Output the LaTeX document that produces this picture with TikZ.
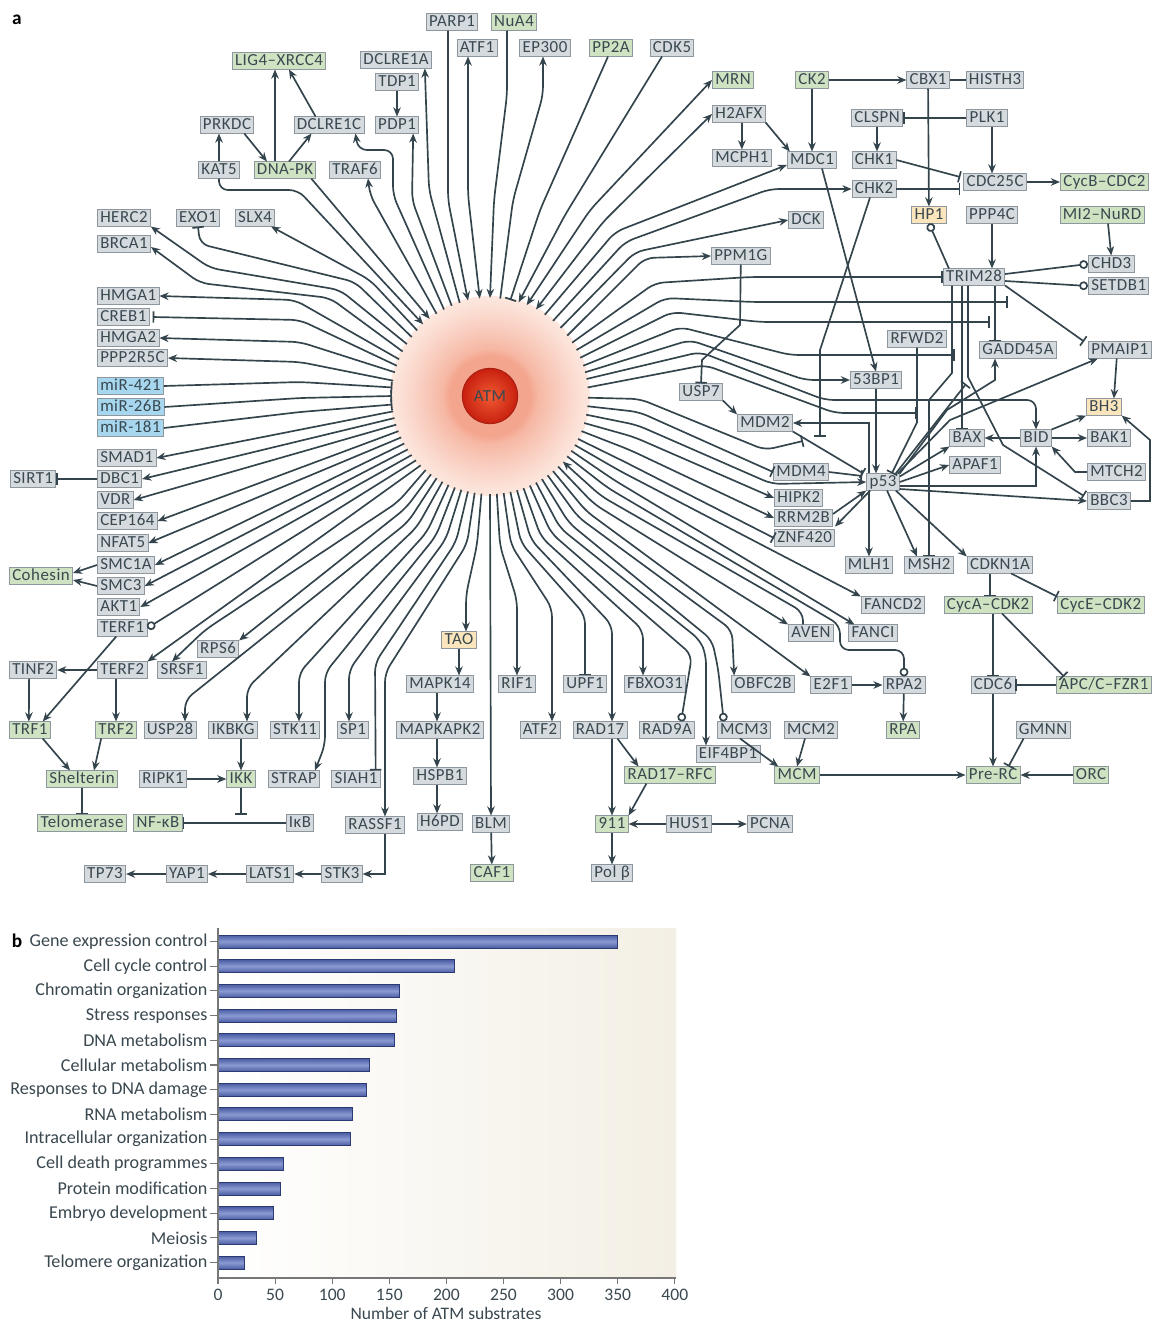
\documentclass[tikz,border=0pt]{standalone}
\usepackage{fontspec}
\setmainfont{Carlito}
\newfontfamily\boxfont[LetterSpace=3.0]{Carlito}
\newcommand{\genesize}{\fontsize{9.6}{10}\selectfont}
\usetikzlibrary{arrows.meta,calc}

\definecolor{lncol}{HTML}{33444C}
\definecolor{txtcol}{HTML}{3A4850}
\definecolor{boxline}{HTML}{8E979D}
\definecolor{genefill}{HTML}{D5DADF}
\definecolor{cplxfill}{HTML}{CFE3C3}
\definecolor{mirfill}{HTML}{A6D7EE}
\definecolor{famfill}{HTML}{FBE5BC}
\definecolor{haloA}{HTML}{F4A58E}
\definecolor{haloB}{HTML}{F6B8A4}
\definecolor{haloC}{HTML}{F9CFC1}
\definecolor{haloD}{HTML}{FCE2D8}
\definecolor{haloE}{HTML}{FEF0EA}
\definecolor{haloF}{HTML}{FFFAF8}
\definecolor{atmin}{HTML}{F05A32}
\definecolor{atmout}{HTML}{C8200F}
\definecolor{atmline}{HTML}{A81E12}
\definecolor{chartbg}{HTML}{F3EFE4}
\definecolor{bardark}{HTML}{2B3A73}
\definecolor{barmid}{HTML}{4A5DA3}
\definecolor{barlight}{HTML}{8A9AD2}
\definecolor{axiscol}{HTML}{777777}

\pgfdeclareradialshading{halo}{\pgfpoint{0bp}{0bp}}{color(0bp)=(haloA); color(10bp)=(haloA); color(12bp)=(haloB); color(17.7bp)=(haloC); color(23bp)=(haloD); color(28bp)=(haloE); color(33.5bp)=(haloF); color(35.4bp)=(white); color(50bp)=(white)}

\begin{document}
\begin{tikzpicture}[x=0.02cm, y=-0.02cm, color=lncol, line width=0.95pt, node distance=0.92cm,
  >={Stealth[length=5.2pt,width=4.3pt]},
  gene/.style={draw=boxline, fill=genefill, text=txtcol, line width=0.5pt, font=\boxfont\genesize,
    inner xsep=1.6pt, inner ysep=0.9pt, text height=6.4pt, text depth=1pt},
  cplx/.style={gene, fill=cplxfill},
  mir/.style={gene, fill=mirfill},
  fam/.style={gene, fill=famfill},
  radial/.style={rounded corners=5pt},
  act/.style={->}, ract/.style={<-}, dact/.style={<->},
  inh/.style={-{Bar[width=6.5pt]}}, rinh/.style={{Bar[width=6.5pt]}-},
  bnd/.style={-{Circle[open,length=5pt,width=5pt]}},
  cat/.style={anchor=east, text=txtcol, font=\fontsize{10.3}{11}\selectfont, inner sep=1pt},
  tick/.style={anchor=north, text=txtcol, font=\fontsize{10}{11}\selectfont, inner sep=1pt},
  bar/.style={draw=bardark, line width=0.5pt, top color=barmid, bottom color=barmid, middle color=barlight}]

\path[use as bounding box, fill=white] (0,0) rectangle (1153,1322);

% panel a
\node[text=black, font=\bfseries\fontsize{11}{12}\selectfont] (lbla) at (17,20) {a};

\coordinate (core) at (490,396);
\shade[shading=halo] (core) circle (100);
\node[circle, draw=atmline, line width=0.6pt, inner color=atmin, outer color=atmout, minimum size=31.5pt, inner sep=0pt,
  text=txtcol, font=\boxfont\genesize] (atm) at (core) {ATM};

% left and top
\node[cplx] (lig4) at (279,61) {LIG4–XRCC4};
\node[gene] (dclreA) at (396,60) {DCLRE1A};
\node[gene] (tdp1) at (397,82) {TDP1};
\node[gene] (prkdc) at (227,125) {PRKDC};
\node[gene] (dclreC) at (329,125) {DCLRE1C};
\node[gene] (pdp1) at (397,125) {PDP1};
\node[gene] (kat5) at (219,170) {KAT5};
\node[cplx] (dnapk) at (285,170) {DNA-PK};
\node[gene] (traf6) at (355,170) {TRAF6};
\node[gene, anchor=west] (herc2) at (97,218) {HERC2};
\node[gene] (exo1) at (198,218) {EXO1};
\node[gene] (slx4) at (255,218) {SLX4};
\node[gene, anchor=west] (brca1) at (97,244) {BRCA1};
\node[gene, anchor=west] (hmga1) at (97,296) {HMGA1};
\node[gene, anchor=west] (creb1) at (97,317) {CREB1};
\node[gene, anchor=west] (hmga2) at (97,338) {HMGA2};
\node[gene, anchor=west] (ppp2r5c) at (97,358) {PPP2R5C};
\node[mir, anchor=west] (mir421) at (97,386) {miR-421};
\node[mir, anchor=west] (mir26b) at (97,407) {miR-26B};
\node[mir, anchor=west] (mir181) at (97,428) {miR-181};
\node[gene, anchor=west] (smad1) at (97,458) {SMAD1};
\node[gene, anchor=west] (dbc1) at (97,479) {DBC1};
\node[gene, anchor=west] (sirt1) at (10,479) {SIRT1};
\node[gene, anchor=west] (vdr) at (97,500) {VDR};
\node[gene, anchor=west] (cep164) at (97,521) {CEP164};
\node[gene, anchor=west] (nfat5) at (97,543) {NFAT5};
\node[gene, anchor=west] (smc1a) at (97,565) {SMC1A};
\node[cplx, anchor=west] (cohesin) at (9,576) {Cohesin};
\node[gene, anchor=west] (smc3) at (97,586) {SMC3};
\node[gene, anchor=west] (akt1) at (97,607) {AKT1};
\node[gene, anchor=west] (terf1) at (97,628) {TERF1};
\node[gene] (rps6) at (218,649) {RPS6};
\node[gene, anchor=west] (tinf2) at (9,670) {TINF2};
\node[gene, anchor=west] (terf2) at (97,670) {TERF2};
\node[gene] (srsf1) at (182,670) {SRSF1};
\node[cplx, anchor=west] (trf1) at (9,730) {TRF1};
\node[cplx] (trf2) at (116,730) {TRF2};
\node[gene] (usp28) at (170,730) {USP28};
\node[gene] (ikbkg) at (233,730) {IKBKG};
\node[gene] (stk11) at (295,730) {STK11};
\node[gene] (sp1) at (353,730) {SP1};
\node[cplx] (shelterin) at (82,779) {Shelterin};
\node[gene] (ripk1) at (163,779) {RIPK1};
\node[cplx] (ikk) at (241,779) {IKK};
\node[gene] (strap) at (294,779) {STRAP};
\node[gene] (siah1) at (356,779) {SIAH1};
\node[cplx] (telomerase) at (82,823) {Telomerase};
\node[cplx] (nfkb) at (158,823) {NF-κB};
\node[gene] (ikb) at (300,823) {IκB};
\node[gene] (rassf1) at (375,825) {RASSF1};
\node[gene] (tp73) at (105,874) {TP73};
\node[gene] (yap1) at (187,874) {YAP1};
\node[gene] (lats1) at (270,874) {LATS1};
\node[gene] (stk3) at (342,874) {STK3};

% bottom
\node[fam] (tao) at (459,640) {TAO};
\node[gene] (mapk14) at (440,684) {MAPK14};
\node[gene] (mapkapk2) [below of=mapk14] {MAPKAPK2};
\node[gene] (hspb1) [below of=mapkapk2] {HSPB1};
\node[gene] (h6pd) [below of=hspb1] {H6PD};
\node[gene] (blm) at (491,824) {BLM};
\node[cplx] (caf1) at (492,873) {CAF1};
\node[gene] (rif1) at (517,684) {RIF1};
\node[gene] (upf1) at (585,684) {UPF1};
\node[gene] (fbxo31) at (655,684) {FBXO31};
\node[gene] (obfc2b) at (763,684) {OBFC2B};
\node[gene] (atf2) at (540,730) {ATF2};
\node[gene] (rad17) at (600,730) {RAD17};
\node[gene] (rad9a) at (667,730) {RAD9A};
\node[gene] (mcm3) at (744,730) {MCM3};
\node[gene] (mcm2) at (811,730) {MCM2};
\node[gene] (eif4bp1) at (728,754) {EIF4BP1};
\node[cplx] (rad17rfc) at (670,775) {RAD17–RFC};
\node[cplx] (n911) at (612,824) {911};
\node[gene] (hus1) at (689,824) {HUS1};
\node[gene] (pcna) at (770,824) {PCNA};
\node[gene] (polb) at (612,873) {Pol β};
\node[cplx] (mcm) at (797,775) {MCM};
\node[gene] (e2f1) at (831,685) {E2F1};
\node[gene] (rpa2) at (904,685) {RPA2};
\node[cplx] (rpa) at (903,730) {RPA};
\node[gene] (aven) at (811,633) {AVEN};
\node[gene] (fanci) at (873,633) {FANCI};
\node[gene] (fancd2) at (893,605) {FANCD2};
\node[gene] (mlh1) at (869,565) {MLH1};
\node[gene] (msh2) at (929,565) {MSH2};
\node[gene] (cdkn1a) at (1000,565) {CDKN1A};
\node[cplx] (cyca) at (988,605) {CycA–CDK2};
\node[cplx, anchor=west] (cyce) at (1057,605) {CycE–CDK2};
\node[gene] (cdc6) at (993,685) {CDC6};
\node[cplx, anchor=west] (apcc) at (1056,685) {APC/C–FZR1};
\node[gene] (gmnn) at (1043,730) {GMNN};
\node[cplx] (prerc) at (993,775) {Pre-RC};
\node[cplx] (orc) at (1091,775) {ORC};

% top and right
\node[gene] (parp1) at (452,22) {PARP1};
\node[cplx] (nua4) at (514,22) {NuA4};
\node[gene] (atf1) at (477,48) {ATF1};
\node[gene] (ep300) at (545,48) {EP300};
\node[cplx] (pp2a) at (611,48) {PP2A};
\node[gene] (cdk5) at (672,48) {CDK5};
\node[cplx, anchor=west] (mrn) at (712,80) {MRN};
\node[gene, anchor=west] (h2afx) at (712,114) {H2AFX};
\node[gene, anchor=west] (mcph1) at (712,158) {MCPH1};
\node[gene, anchor=west] (ppm1g) at (711,256) {PPM1G};
\node[cplx] (ck2) at (812,80) {CK2};
\node[gene] (cbx1) at (928,80) {CBX1};
\node[gene] (histh3) at (995,80) {HISTH3};
\node[gene] (clspn) at (877,118) {CLSPN};
\node[gene] (plk1) at (987,118) {PLK1};
\node[gene] (mdc1) at (812,160) {MDC1};
\node[gene] (chk1) at (874,160) {CHK1};
\node[gene] (chk2) at (874,189) {CHK2};
\node[gene] (cdc25c) at (995,182) {CDC25C};
\node[cplx, anchor=west] (cycb) at (1060,182) {CycB–CDC2};
\node[gene] (dck) at (806,220) {DCK};
\node[fam] (hp1) at (929,215) {HP1};
\node[gene] (ppp4c) at (992,215) {PPP4C};
\node[cplx] (mi2) at (1102,215) {MI2–NuRD};
\node[gene, anchor=west] (chd3) at (1088,264) {CHD3};
\node[gene] (trim28) at (974,277) {TRIM28};
\node[gene, anchor=west] (setdb1) at (1088,286) {SETDB1};
\node[gene] (rfwd2) at (917,339) {RFWD2};
\node[gene] (gadd45a) at (1018,350) {GADD45A};
\node[gene, anchor=west] (pmaip1) at (1088,350) {PMAIP1};
\node[gene] (bp53) at (876,380) {53BP1};
\node[fam, anchor=west] (bh3) at (1086,407) {BH3};
\node[gene] (usp7) at (701,392) {USP7};
\node[gene] (mdm2) at (765,423) {MDM2};
\node[gene] (bax) at (967,438) {BAX};
\node[gene] (bid) at (1036,438) {BID};
\node[gene, anchor=west] (bak1) at (1087,438) {BAK1};
\node[gene] (mdm4) at (801,472) {MDM4};
\node[gene] (apaf1) at (975,465) {APAF1};
\node[gene, anchor=west] (mtch2) at (1087,472) {MTCH2};
\node[gene] (p53) at (883,482) {p53};
\node[gene, anchor=west] (hipk2) at (774,498) {HIPK2};
\node[gene, anchor=west] (bbc3) at (1087,501) {BBC3};
\node[gene, anchor=west] (rrm2b) at (774,518) {RRM2B};
\node[gene, anchor=west] (znf420) at (774,538) {ZNF420};

% free ends of bars that sit on other links
\coordinate (k1) at (1008,302);
\coordinate (k2) at (990,322);
\coordinate (k3) at (955,355);
\coordinate (k4) at (917,413);
\coordinate (k5) at (803,441);
\coordinate (k6) at (820,437);
\coordinate (k7) at (241,815);
\coordinate (k8) at (966,384);

% links from ATM, upper left
\draw[radial,act] ($(atm)+(189:98)$) -- (300,362) -- (ppp2r5c.east);
\draw[radial,act] ($(atm)+(194:98)$) -- (300,342) -- (hmga2.east);
\draw[radial,inh] ($(atm)+(198:98)$) -- (300,320) -- ($(creb1.east)+(3,0)$);
\draw[radial,act] ($(atm)+(202:98)$) -- (295,300) -- (hmga1.east);
\draw[radial,act] ($(atm)+(207:98)$) -- (330,298) -- (200,283) -- ($(brca1.east)+(0,3)$);
\draw[radial,act] ($(atm)+(212:98)$) -- (340,290) -- (210,268) -- (herc2.south east);
\draw[radial,inh] ($(atm)+(217:98)$) -- (355,282) -- (200,244) -- (exo1.south);
\draw[radial,act] ($(atm)+(222:98)$) -- (370,280) -- ($(slx4.south east)+(-4,0)$);
\draw[radial,ract] ($(atm)+(227:98)$) -- (298,190) -- (219,190) -- (kat5.south);
\draw[radial,ract] ($(atm)+(232:98)$) -- ($(dnapk.south east)+(-5,0)$);
\draw[radial,act] ($(atm)+(237:98)$) -- (370,195) -- ($(traf6.south)+(13,0)$);
\draw[radial,act] ($(atm)+(242:98)$) -- (393,195) -- (393,150) -- (358,150) -- ($(dclreC.south east)+(-9,0)$);
\draw[radial,act] ($(atm)+(247:98)$) -- (412,200) -- ($(pdp1.south east)+(-6,0)$);
\draw[radial,act] ($(atm)+(252:98)$) -- (429,190) -- ($(dclreA.south east)+(-7,0)$);
\draw[radial,ract] ($(atm)+(257:98)$) -- (448,200) -- ($(parp1.south)+(-4,0)$);
\draw[radial,dact] ($(atm)+(264:98)$) -- (468,195) -- ($(atf1.south)+(-9,0)$);
\draw[radial,ract] ($(atm)+(270:98)$) -- (494,200) -- (507,95) -- ($(nua4.south)+(-7,0)$);
\draw[radial,act] ($(atm)+(276:98)$) -- (513,200) -- (543,95) -- ($(ep300.south)+(-2,0)$);
\draw[radial,rinh] ($(atm)+(282:98)$) -- (540,210) -- ($(pp2a.south)+(-3,0)$);
\draw[radial,ract] ($(atm)+(287:98)$) -- (565,215) -- ($(cdk5.south)+(-10,0)$);
\draw[radial,dact] ($(atm)+(292:98)$) -- (590,210) -- (mrn.west);
\draw[radial,dact] ($(atm)+(298:98)$) -- (603,222) -- (h2afx.west);

% links from ATM, right
\draw[radial,act] ($(atm)+(304:98)$) -- (615,232) -- ($(mdc1.west)+(0,5)$);
\draw[radial,act] ($(atm)+(310:98)$) -- (625,242) -- (770,189) -- (chk2.west);
\draw[radial,act] ($(atm)+(316:98)$) -- (635,252) -- (dck.west);
\draw[radial,act] ($(atm)+(322:98)$) -- (645,258) -- (ppm1g.west);
\draw[radial,inh] ($(atm)+(327:98)$) -- (655,283) -- (750,277) -- (trim28.west);
\draw[radial,inh] ($(atm)+(332:98)$) -- (665,298) -- (753,302) -- (k1);
\draw[radial,inh] ($(atm)+(337:98)$) -- (672,312) -- (760,322) -- (k2);
\draw[radial,inh] ($(atm)+(342:98)$) -- (680,327) -- (790,355) -- (k3);
\draw[radial,act] ($(atm)+(346:98)$) -- (690,340) -- (805,380) -- (bp53.west);
\draw[radial,act] ($(atm)+(350:98)$) -- (700,352) -- (825,400) -- (1036,400) -- (bid.north);
\draw[radial,inh] ($(atm)+(355:98)$) -- (705,365) -- (835,413) -- (k4);
\draw[radial,inh] ($(atm)+(1:98)$) -- (640,399) -- (765,450) -- (k5);
\draw[radial,inh] ($(atm)+(6:98)$) -- (639,412) -- (mdm4.west);
\draw[radial,act] ($(atm)+(11:98)$) -- (637,425) -- (772,484) -- (p53.west);
\draw[radial,act] ($(atm)+(16:98)$) -- (634,437) -- (hipk2.west);
\draw[radial,act] ($(atm)+(21:98)$) -- (630,450) -- (rrm2b.west);
\draw[radial,inh] ($(atm)+(26:98)$) -- (625,462) -- (znf420.west);
\draw[radial,act] ($(atm)+(30:98)$) -- (620,471) -- (fancd2.north west);
\draw[radial,act] ($(atm)+(34:98)$) -- (614,480) -- ($(fanci.north west)+(6,0)$);
\draw[radial,bnd] ($(atm)+(38:98)$) -- (608,488) -- (840,625) -- (840,650) -- (904,650) -- (rpa2.north);
\draw[radial,ract] ($(atm)+(42:98)$) -- (601,496) -- (803,612) -- ($(aven.north)+(-8,0)$);
\draw[radial,act] ($(atm)+(46:98)$) -- (594,504) -- (aven.north west);
\draw[radial,act] ($(atm)+(50:98)$) -- (586,511) -- (e2f1.north west);

% links from ATM, bottom
\draw[radial,act] ($(atm)+(54:98)$) -- (578,517) -- (732,630) -- ($(obfc2b.north west)+(3,0)$);
\draw[radial,bnd] ($(atm)+(58:98)$) -- (569,523) -- (712,640) -- (718,668) -- ($(mcm3.north west)+(7,0)$);
\draw[radial,act] ($(atm)+(62:98)$) -- (560,528) -- (700,640) -- (706,655) -- ($(eif4bp1.north)+(-22,0)$);
\draw[radial,bnd] ($(atm)+(66:98)$) -- (551,533) -- (692,655) -- ($(rad9a.north east)+(-14,0)$);
\draw[radial,act] ($(atm)+(70:98)$) -- (541,537) -- (643,630) -- ($(fbxo31.north)+(-12,0)$);
\draw[radial,act] ($(atm)+(74:98)$) -- (531,540) -- (612,625) -- ($(rad17.north)+(12,0)$);
\draw[radial,inh] ($(atm)+(78:98)$) -- (521,543) -- (585,615) -- (upf1.north);
\draw[radial,act] ($(atm)+(82:98)$) -- (511,545) -- (552,608) -- ($(atf2.north)+(12,0)$);
\draw[radial,act] ($(atm)+(86:98)$) -- (500,546) -- (517,600) -- (rif1.north);
\draw[radial,act] ($(atm)+(90:98)$) -- (blm.north);
\draw[radial,act] ($(atm)+(95:98)$) -- (477,545) -- (466,595) -- ($(tao.north)+(7,0)$);
\draw[radial,act] ($(atm)+(99:98)$) -- (467,544) -- (385,673) -- ($(rassf1.north)+(10,0)$);
\draw[radial,inh] ($(atm)+(103:98)$) -- (456,542) -- (375,663) -- ($(siah1.north east)+(-5,0)$);
\draw[radial,act] ($(atm)+(107:98)$) -- (446,539) -- (349,670) -- ($(sp1.north)+(-4,0)$);
\draw[radial,act] ($(atm)+(111:98)$) -- (436,536) -- (325,673) -- (325,745) -- ($(strap.north east)+(-5,0)$);
\draw[radial,act] ($(atm)+(115:98)$) -- (427,532) -- (299,673) -- ($(stk11.north)+(4,0)$);
\draw[radial,act] ($(atm)+(119:98)$) -- (417,527) -- (247,688) -- ($(ikbkg.north)+(14,0)$);
\draw[radial,act] ($(atm)+(123:98)$) -- (408,522) -- (185,700) -- ($(usp28.north)+(15,0)$);
\draw[radial,act] ($(atm)+(127:98)$) -- (406,508) -- (rps6.north east);
\draw[radial,act] ($(atm)+(131:98)$) -- (398,502) -- (205,630) -- ($(srsf1.north)+(-10,0)$);

% links from ATM, lower left
\draw[radial,act] ($(atm)+(135:98)$) -- (terf2.north east);
\draw[radial,bnd] ($(atm)+(139:98)$) -- (terf1.east);
\draw[radial,act] ($(atm)+(143:98)$) -- (akt1.east);
\draw[radial,act] ($(atm)+(147:98)$) -- (smc3.east);
\draw[radial,act] ($(atm)+(151:98)$) -- (smc1a.east);
\draw[radial,act] ($(atm)+(155:98)$) -- (nfat5.east);
\draw[radial,act] ($(atm)+(159:98)$) -- (cep164.east);
\draw[radial,act] ($(atm)+(163:98)$) -- (vdr.east);
\draw[radial,act] ($(atm)+(167:98)$) -- (dbc1.east);
\draw[radial,act] ($(atm)+(171:98)$) -- (smad1.east);
\draw[radial,rinh] ($(atm)+(175:98)$) -- (300,412) -- (mir181.east);
\draw[radial,rinh] ($(atm)+(180:98)$) -- (300,398) -- (mir26b.east);
\draw[radial,rinh] ($(atm)+(185:98)$) -- (300,382) -- (mir421.east);

% upper left cluster
\draw[act] (kat5.north) -- (kat5.north |- prkdc.south);
\draw[act] ($(prkdc.south east)+(-10,0)$) -- ($(dnapk.north)+(-18,0)$);
\draw[act] ($(dnapk.north)+(-10,0)$) -- ($(lig4.south)+(-4,0)$);
\draw[act] ($(dnapk.north)+(4,0)$) -- ($(dclreC.south west)+(18,0)$);
\draw[act] ($(dclreC.north west)+(22,0)$) -- ($(lig4.south)+(10,0)$);
\draw[act] (tdp1) -- (pdp1);

% left clusters
\draw[inh] (dbc1) -- (sirt1);
\draw[act] (smc1a.west) -- ($(cohesin.east)+(0,-3)$);
\draw[act] (smc3.west) -- ($(cohesin.east)+(0,4)$);
\draw[act] ($(terf1.south)+(-6,0)$) -- ($(trf1.north east)+(-8,0)$);
\draw[act] (terf2) -- (tinf2);
\draw[act] ($(tinf2.south)+(-4,0)$) -- ($(trf1.north)+(-1,0)$);
\draw[act] (terf2.south -| trf2) -- (trf2);
\draw[act] ($(trf1.south east)+(-8,0)$) -- ($(shelterin.north)+(-12,0)$);
\draw[act] ($(trf2.south west)+(6,0)$) -- ($(shelterin.north)+(12,0)$);
\draw[inh] (shelterin) -- (telomerase);
\draw[act] (ikbkg.south -| ikk) -- (ikk);
\draw[act] (ripk1) -- (ikk);
\draw[inh] (ikk) -- (k7);
\draw[inh] (ikb) -- (nfkb);
\draw[act] ($(rassf1.south)+(10,0)$) |- (stk3.east);
\draw[act] (stk3) -- (lats1);
\draw[act] (lats1) -- (yap1);
\draw[act] (yap1) -- (tp73);

% bottom clusters
\draw[act] (tao) -- (tao |- mapk14.north);
\draw[act] ($(mapk14.south)+(-3,0)$) -- ($(mapkapk2.north)+(-3,0)$);
\draw[act] ($(mapkapk2.south)+(-3,0)$) -- ($(hspb1.north)+(-3,0)$);
\draw[act] ($(hspb1.south)+(-3,0)$) -- ($(h6pd.north)+(-3,0)$);
\draw[act] (blm) -- (caf1);
\draw[act] ($(rad17.south)+(12,0)$) -- (n911);
\draw[act] ($(rad17.south east)+(-10,0)$) -- ($(rad17rfc.north west)+(14,0)$);
\draw[act] ($(rad17rfc.south west)+(22,0)$) -- (n911.north east);
\draw[act] (hus1) -- (n911);
\draw[act] (hus1) -- (pcna);
\draw[act] (n911) -- (polb);
\draw[act] ($(mcm3.south)+(-4,0)$) -- ($(mcm.north west)+(4,0)$);
\draw[act] ($(mcm2.south)+(-6,0)$) -- (mcm.north);
\draw[act] (mcm) -- (prerc);
\draw[act] (orc) -- (prerc);
\draw[inh] ($(gmnn.south west)+(8,0)$) -- ($(prerc.north east)+(-12,0)$);
\draw[act] (cdc6) -- (prerc);
\draw[inh] (apcc) -- (cdc6);
\draw[inh] (cyca.south -| cdc6) -- (cdc6);
\draw[inh] ($(cyca.south)+(14,0)$) -- ($(apcc.north west)+(8,0)$);
\draw[inh] ($(cdkn1a.south)+(-10,0)$) -- ($(cyca.north)+(2,0)$);
\draw[inh] ($(cdkn1a.south east)+(-22,0)$) -- (cyce.north west);
\draw[act] (e2f1) -- (rpa2);
\draw[act] (rpa2) -- (rpa);

% p53 cluster
\draw[act] ($(p53.south)+(-14,0)$) -- (mlh1.north);
\draw[act] ($(p53.south)+(4,0)$) -- ($(msh2.north)+(-12,0)$);
\draw[act] ($(p53.south east)+(-4,0)$) -- (cdkn1a.north west);
\draw[act] (p53.east) -- (apaf1.west);
\draw[act] ($(p53.north east)+(0,3)$) -- (bax.south west);
\draw[act] ($(p53.east)+(0,4)$) -| (bid.south);
\draw[act] ($(p53.east)+(0,7)$) -- (bbc3.west);
\draw[act] (p53.north east) -- (947,410) -- (995,380) -- ($(gadd45a.south)+(-23,0)$);
\draw[inh] ($(p53.north east)+(-4,0)$) -- (k8);
\draw[act] ($(p53.north east)+(-2,0)$) -- (950,420) -- ($(pmaip1.south)+(-22,0)$);
\draw[act] ($(rrm2b.east)+(0,-4)$) -- (p53.south west);
\draw[act] ($(p53.south west)+(4,0)$) -- ($(rrm2b.south east)+(2,0)$);
\draw[act] (bp53.south) -- ($(p53.north)+(-7,0)$);
\draw[inh] (rfwd2.south) -- ($(rfwd2.south)+(0,75)$) -- ($(p53.north east)+(-8,0)$);
\draw[inh] (mdm2.south east) -- ($(p53.north west)+(-3,0)$);
\draw[inh] (mdm4.east) -- ($(p53.west)+(-4,-6)$);
\draw[act] ($(p53.north west)+(3,0)$) |- (mdm2.east);
\draw[act] (usp7.south east) -- (mdm2.north west);
\draw[inh] (ppm1g.south) -- (740,325) -- (702,360) -- (usp7.north);

% checkpoint cluster
\draw[act] ($(mdc1.south)+(10,0)$) -- (bp53.north);
\draw[inh] ($(chk2.south)+(-4,0)$) -- (820,350) -- (k6);
\draw[act] (ck2) -- (cbx1);
\draw[act] (ck2) -- (mdc1);
\draw (cbx1) -- (histh3);
\draw[act] (cbx1) -- (hp1);
\draw[inh] (plk1) -- (clspn);
\draw[act] ($(plk1.south)+(5,0)$) -- ($(cdc25c.north)+(-3,0)$);
\draw[act] (clspn.south) -- (clspn.south |- chk1.north);
\draw[inh] (chk1.east) -- ($(cdc25c.west)+(-3,-5)$);
\draw[inh] (chk2.east) -- ($(cdc25c.west)+(-3,7)$);
\draw[act] (cdc25c) -- (cycb);
\draw[act] (h2afx.south -| mcph1) -- (mcph1);
\draw[act] (h2afx.south east) -- ($(mdc1.north west)+(3,0)$);

% TRIM28 and apoptosis cluster
\draw[bnd] ($(trim28.north west)+(6,0)$) -- (hp1.south);
\draw[act] (ppp4c) -- (ppp4c |- trim28.north);
\draw[act] ($(mi2.south)+(6,0)$) -- (chd3.north);
\draw[bnd] ($(trim28.east)+(0,-3)$) -- (chd3.west);
\draw[bnd] ($(trim28.east)+(0,4)$) -- (setdb1.west);
\draw[inh] (trim28.south east) -- ($(pmaip1.north west)+(-4,0)$);
\draw[inh] ($(trim28.south)+(21,0)$) -- ($(gadd45a.north)+(-23,0)$);
\draw[inh] ($(trim28.south)+(-22,0)$) -- (952,373) -- (929,400) -- (msh2.north);
\draw[inh] ($(trim28.south)+(-12,0)$) -- ($(bax.north)+(-5,0)$);
\draw[inh] ($(trim28.south)+(-6,0)$) -- (968,377) -- (1003,445) -- ($(bbc3.west)+(-3,-5)$);
\draw[act] (bid) -- (bax);
\draw[act] (bid) -- (bak1);
\draw[act] (bid.north east) -- (bh3.south west);
\draw[act] (mtch2.west) -- (1075,472) -- (bid.south east);
\draw[act] ($(pmaip1.south)+(-3,0)$) -- ($(bh3.north)+(10,0)$);
\draw[act] (bbc3.east) -- (1150,501) -- (1150,440) -- (bh3.south east);

% panel b
\node[text=black, font=\bfseries\fontsize{11}{12}\selectfont] (lblb) at (17,941) {b};
\shade[left color=white, right color=chartbg] (218,928) rectangle (676,1278);

\draw[bar] (218,935) rectangle (617.7,948);
\draw[bar] (218,959.7) rectangle (454.4,972.7);
\draw[bar] (218,984.4) rectangle (399.6,997.4);
\draw[bar] (218,1009.1) rectangle (396.2,1022.1);
\draw[bar] (218,1033.8) rectangle (394.4,1046.8);
\draw[bar] (218,1058.5) rectangle (369.9,1071.5);
\draw[bar] (218,1083.2) rectangle (366.5,1096.2);
\draw[bar] (218,1107.9) rectangle (352.2,1120.9);
\draw[bar] (218,1132.6) rectangle (350.5,1145.6);
\draw[bar] (218,1157.3) rectangle (283.1,1170.3);
\draw[bar] (218,1182) rectangle (280.5,1195);
\draw[bar] (218,1206.7) rectangle (273.3,1219.7);
\draw[bar] (218,1231.4) rectangle (256.3,1244.4);
\draw[bar] (218,1256.1) rectangle (244,1269.1);

\node[cat] (c1) at (210,941.5) {Gene expression control};
\node[cat] (c2) at (210,966.2) {Cell cycle control};
\node[cat] (c3) at (210,990.9) {Chromatin organization};
\node[cat] (c4) at (210,1015.6) {Stress responses};
\node[cat] (c5) at (210,1040.3) {DNA metabolism};
\node[cat] (c6) at (210,1065) {Cellular metabolism};
\node[cat] (c7) at (210,1089.7) {Responses to DNA damage};
\node[cat] (c8) at (210,1114.4) {RNA metabolism};
\node[cat] (c9) at (210,1139.1) {Intracellular organization};
\node[cat] (c10) at (210,1163.8) {Cell death programmes};
\node[cat] (c11) at (210,1188.5) {Protein modification};
\node[cat] (c12) at (210,1213.2) {Embryo development};
\node[cat] (c13) at (210,1237.9) {Meiosis};
\node[cat] (c14) at (210,1262.6) {Telomere organization};

\draw[axiscol, line width=0.6pt] (218,928) -- (218,1278) -- (676,1278);
\draw[axiscol, line width=0.6pt] (210,941.5) -- (218,941.5) (210,966.2) -- (218,966.2) (210,990.9) -- (218,990.9)
  (210,1015.6) -- (218,1015.6) (210,1040.3) -- (218,1040.3) (210,1065) -- (218,1065) (210,1089.7) -- (218,1089.7)
  (210,1114.4) -- (218,1114.4) (210,1139.1) -- (218,1139.1) (210,1163.8) -- (218,1163.8) (210,1188.5) -- (218,1188.5)
  (210,1213.2) -- (218,1213.2) (210,1237.9) -- (218,1237.9) (210,1262.6) -- (218,1262.6);
\draw[axiscol, line width=0.6pt] (218,1278) -- (218,1284) (275.1,1278) -- (275.1,1284) (332.2,1278) -- (332.2,1284)
  (389.3,1278) -- (389.3,1284) (446.4,1278) -- (446.4,1284) (503.5,1278) -- (503.5,1284) (560.6,1278) -- (560.6,1284)
  (617.7,1278) -- (617.7,1284) (674.8,1278) -- (674.8,1284);

\node[tick] (t0) at (218,1286) {0};
\node[tick] (t1) at (275.1,1286) {50};
\node[tick] (t2) at (332.2,1286) {100};
\node[tick] (t3) at (389.3,1286) {150};
\node[tick] (t4) at (446.4,1286) {200};
\node[tick] (t5) at (503.5,1286) {250};
\node[tick] (t6) at (560.6,1286) {300};
\node[tick] (t7) at (617.7,1286) {350};
\node[tick] (t8) at (674.8,1286) {400};
\node[tick] (xtitle) at (446,1305) {Number of ATM substrates};
\end{tikzpicture}
\end{document}
